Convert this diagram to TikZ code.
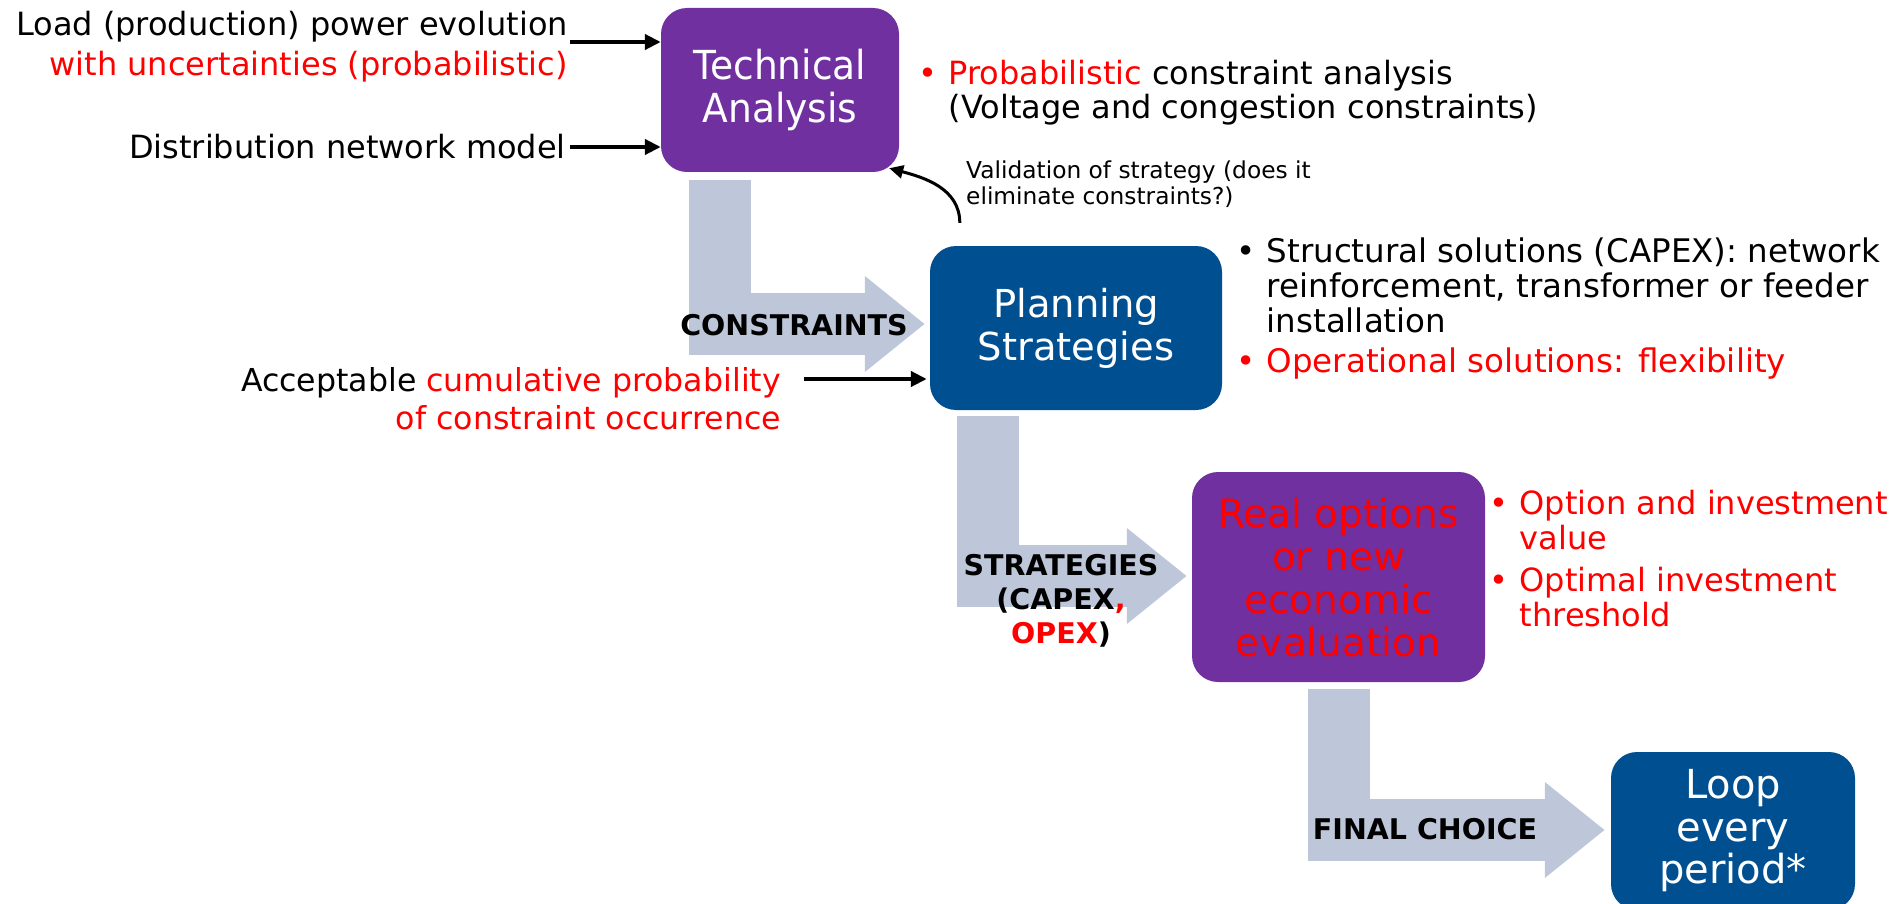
\documentclass[tikz,border=0pt]{standalone}
\usepackage{fontspec}
\setmainfont{DejaVu Sans}
\newfontfamily\narrowfont{DejaVu Sans}[FakeStretch=0.94]
\usetikzlibrary{arrows.meta,calc}
\definecolor{tpurple}{HTML}{7030A0}
\definecolor{tblue}{HTML}{004F91}
\definecolor{tgray}{HTML}{BDC7D9}
\newcommand{\bul}[1]{\makebox[30pt][l]{\textcolor{#1}{\textbullet}}}
\newcommand{\ind}{\hspace*{30pt}}
\begin{document}
\begin{tikzpicture}[x=1pt,y=-1pt,
  box/.style={rounded corners=26pt, inner sep=0pt, align=center, font=\fontsize{38.5}{43}\selectfont},
  bodytext/.style={inner sep=0pt, font=\fontsize{32}{40}\selectfont},
  bullets/.style={inner sep=0pt, align=left, anchor=west, font=\fontsize{32}{35}\selectfont},
  biglabel/.style={inner sep=0pt, align=center, font=\bfseries\fontsize{28.5}{34}\selectfont},
  notetext/.style={inner sep=0pt, align=left, anchor=west, font=\fontsize{23.3}{26}\selectfont},
  flow/.style={draw=tgray, line width=62pt, line join=miter, line cap=butt, -{Triangle[length=60pt,width=92pt]}},
  input/.style={draw=black, line width=4pt, -{Triangle[length=16pt,width=15pt]}},
  thinarrow/.style={draw=black, line width=3pt, -{Triangle[length=14pt,width=13pt]}}]
\useasboundingbox (0,0) rectangle (1903,904);
\clip (0,0) rectangle (1903,904);

% boxes
\node[box, fill=tpurple, text=white, minimum width=238pt, minimum height=164pt, font=\narrowfont\fontsize{40}{43}\selectfont] (TA) at (780,90) {Technical\\Analysis};
\node[box, fill=tblue, text=white, minimum width=292pt, minimum height=164pt] (PS) at (1076,328) {Planning\\Strategies};
\node[box, fill=tpurple, text=red, minimum width=293pt, minimum height=210pt, font=\fontsize{39}{43}\selectfont] (RO) at (1338.5,577) {Real options\\or new\\economic\\evaluation};
\node[box, fill=tblue, text=white, minimum width=244pt, minimum height=158pt, font=\fontsize{40}{42.5}\selectfont] (Loop) at (1733,831) {Loop\\every\\period*};

% big flow arrows
\draw[flow] ([xshift=-60pt,yshift=-8pt]TA.south) |- ([xshift=-5pt,yshift=4pt]PS.west);
\draw[flow] ([xshift=-88pt,yshift=-6pt]PS.south) |- ([xshift=-5pt,yshift=1pt]RO.west);
\draw[flow] ([yshift=-7pt]RO.south) |- ([xshift=-6pt,yshift=1pt]Loop.west);

% flow labels
\node[biglabel] (lCons) at (794,325) {CONSTRAINTS};
\node[biglabel] (lStrat) at (1061,601) {STRATEGIES\\(CAPEX\textcolor{red}{,}\\\textcolor{red}{OPEX})};
\node[biglabel] (lFinal) at (1425,829) {FINAL CHOICE};

% inputs
\node[bodytext, anchor=east, align=right] (inLoad) at (568,47) {Load (production) power evolution\\\textcolor{red}{with uncertainties (probabilistic)}};
\node[bodytext, anchor=east] (inNet) at (566,147) {Distribution network model};
\node[bodytext, anchor=east, align=right, font=\fontsize{31.6}{38}\selectfont] (inAcc) at (781,399) {Acceptable \textcolor{red}{cumulative probability}\\\textcolor{red}{of constraint occurrence}};

\coordinate (aLoad) at (570,42);
\coordinate (aNet) at (570,147);
\coordinate (aAcc) at (804,379);
\draw[input] (aLoad) -- (aLoad -| TA.west);
\draw[input] (aNet) -- (aNet -| TA.west);
\draw[input, shorten >=3pt] (aAcc) -- (aAcc -| PS.west);

% validation loop
\coordinate (vStart) at ([xshift=30pt,yshift=23pt]PS.north west);
\draw[thinarrow] (vStart) to[out=90,in=-15] ([xshift=-10pt,yshift=4pt]TA.south east);
\node[notetext] (vText) at (966,184.5) {Validation of strategy (does it\\eliminate constraints?)};

% bullet lists
\node[bullets, font=\fontsize{32}{34}\selectfont] (bTA) at (918.5,93) {\bul{red}\textcolor{red}{Probabilistic} constraint analysis\\\ind(Voltage and congestion constraints)};
\node[bullets, font=\fontsize{32.5}{35}\selectfont] (bPS) at (1236.5,309) {\bul{black}Structural solutions (CAPEX): network\\\ind reinforcement, transformer or feeder\\\ind installation\\[5pt]\bul{red}\textcolor{red}{Operational solutions: flexibility}};
\node[bullets, text=red] (bRO) at (1489.5,559) {\bul{red}Option and investment\\\ind value\\[7pt]\bul{red}Optimal investment\\\ind threshold};
\end{tikzpicture}
\end{document}
